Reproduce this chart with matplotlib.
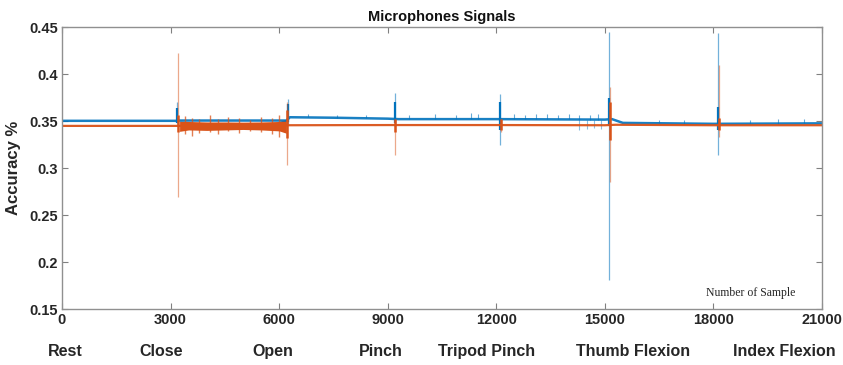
import numpy as np
import matplotlib
matplotlib.use("Agg")
import matplotlib.pyplot as plt

plt.rcParams['font.family'] = ['Liberation Sans', 'DejaVu Sans']

# baseline traces (sample index, level)
blue_x = [0, 3150, 3250, 6200, 6300, 7500, 9000, 9300, 12000, 15000, 15200, 15500, 18000, 21000]
blue_y = [0.3502, 0.3502, 0.3505, 0.3505, 0.3540, 0.3535, 0.3525, 0.3520, 0.3520, 0.3515, 0.3520, 0.3480, 0.3470, 0.3475]
orange_x = [0, 3200, 6250, 9000, 12000, 15000, 15300, 18000, 21000]
orange_y = [0.3448, 0.3448, 0.3455, 0.3457, 0.3457, 0.3455, 0.3460, 0.3455, 0.3455]

# noisy band of orange during "Close"
close_x = [3250, 3500, 4000, 4500, 5000, 5500, 6000, 6200]
close_hi = [0.3500, 0.3495, 0.3490, 0.3490, 0.3488, 0.3490, 0.3495, 0.3520]
close_lo = [0.3390, 0.3405, 0.3400, 0.3405, 0.3410, 0.3405, 0.3395, 0.3370]

# big spikes at gesture onsets
blue_spk_x = [3180, 6240, 9190, 12110, 15120, 18130]
blue_spk_lo = [0.3470, 0.3470, 0.3450, 0.3245, 0.1810, 0.3140]
blue_spk_hi = [0.3700, 0.3730, 0.3800, 0.3790, 0.4447, 0.4436]
orange_spk_x = [3205, 6225, 9200, 12120, 15140, 18145]
orange_spk_lo = [0.2690, 0.3030, 0.3140, 0.3380, 0.2850, 0.3330]
orange_spk_hi = [0.4220, 0.3700, 0.3520, 0.3520, 0.3860, 0.4096]

# dense bursts right at the onsets
blue_burst_lo = [0.3480, 0.3490, 0.3480, 0.3400, 0.3450, 0.3400]
blue_burst_hi = [0.3640, 0.3680, 0.3700, 0.3700, 0.3750, 0.3650]
orange_burst_lo = [0.3380, 0.3320, 0.3380, 0.3400, 0.3300, 0.3400]
orange_burst_hi = [0.3560, 0.3620, 0.3520, 0.3520, 0.3700, 0.3530]

# small noise ticks
blue_tick_x = [6800, 7600, 8400, 9600, 10300, 10900, 11300, 11500, 12500, 12800, 13100,
               13400, 13700, 14000, 14300, 14600, 14800, 16500, 17200, 19000, 19800, 20500]
blue_tick_hi = [0.357, 0.356, 0.356, 0.356, 0.357, 0.356, 0.358, 0.357, 0.357, 0.356, 0.357,
                0.357, 0.356, 0.357, 0.356, 0.356, 0.357, 0.351, 0.351, 0.351, 0.352, 0.352]
blue_dip_x = [14300, 14500, 14700, 14900]
blue_dip_lo = [0.340, 0.341, 0.343, 0.342]
orange_tick_x = [3400, 3600, 3800, 4100, 4300, 4600, 4900, 5200, 5500, 5800, 6000]
orange_tick_lo = [0.336, 0.334, 0.337, 0.338, 0.336, 0.339, 0.337, 0.339, 0.338, 0.336, 0.333]
orange_tick_hi = [0.355, 0.353, 0.352, 0.356, 0.352, 0.354, 0.353, 0.351, 0.354, 0.353, 0.356]

xticks = [0, 3000, 6000, 9000, 12000, 15000, 18000, 21000]
gestures = ['Rest', 'Close', 'Open', 'Pinch', 'Tripod Pinch', 'Thumb Flexion', 'Index Flexion']
gesture_x = [90, 2740, 5830, 8820, 11720, 15780, 19950]

blue = '#0072BD'
orange = '#D95319'

fig = plt.figure(figsize=(8.43, 3.65), dpi=100)
ax = fig.add_axes([0.0735, 0.1534, 0.9015, 0.7726])

# blue series
ax.plot(blue_x, blue_y, color=blue, lw=1.8, alpha=0.9)
ax.vlines(blue_tick_x, np.interp(blue_tick_x, blue_x, blue_y), blue_tick_hi, color=blue, lw=0.8, alpha=0.6)
ax.vlines(blue_dip_x, blue_dip_lo, np.interp(blue_dip_x, blue_x, blue_y), color=blue, lw=0.8, alpha=0.45)
ax.vlines(blue_spk_x, blue_spk_lo, blue_spk_hi, color=blue, lw=0.9, alpha=0.55)
ax.vlines(blue_spk_x, blue_burst_lo, blue_burst_hi, color=blue, lw=1.6)

# orange series
ax.plot(orange_x, orange_y, color=orange, lw=1.6, alpha=0.95)
ax.fill_between(close_x, close_lo, close_hi, color=orange, lw=0)
ax.vlines(orange_tick_x, orange_tick_lo, orange_tick_hi, color=orange, lw=1.0, alpha=0.75)
ax.vlines(orange_spk_x, orange_spk_lo, orange_spk_hi, color=orange, lw=0.9, alpha=0.5)
ax.vlines(orange_spk_x, orange_burst_lo, orange_burst_hi, color=orange, lw=1.8)

ax.set_xlim(0, 21000)
ax.set_ylim(0.15, 0.45)
ax.set_xticks(xticks)
ax.set_xticklabels([str(v) for v in xticks])
ax.set_yticks([0.15, 0.2, 0.25, 0.3, 0.35, 0.4, 0.45])
ax.set_yticklabels(['0.15', '0.2', '0.25', '0.3', '0.35', '0.4', '0.45'])
for lab in ax.get_xticklabels() + ax.get_yticklabels():
    lab.set_fontweight('bold')
    lab.set_fontsize(10.5)
    lab.set_color('#262626')
ax.tick_params(direction='in', top=True, right=True, length=4, color='#808080', pad=3)
for s in ax.spines.values():
    s.set_color('#909090')
    s.set_linewidth(1.0)

for g, gx in zip(gestures, gesture_x):
    ax.text(gx, -0.15, g, transform=ax.get_xaxis_transform(), ha='center', va='center',
            fontsize=11.5, fontweight='bold', color='#262626')

ax.text(19040, 0.167, 'Number of Sample', family='Liberation Serif', fontsize=8.5,
        ha='center', va='center', color='#262626')
ax.set_ylabel('Accuracy %', fontsize=12, fontweight='bold', color='#262626', labelpad=6)
ax.set_title('Microphones Signals', fontsize=10.5, fontweight='bold', color='#111111', pad=4)

fig.savefig('out.png', dpi=100)
